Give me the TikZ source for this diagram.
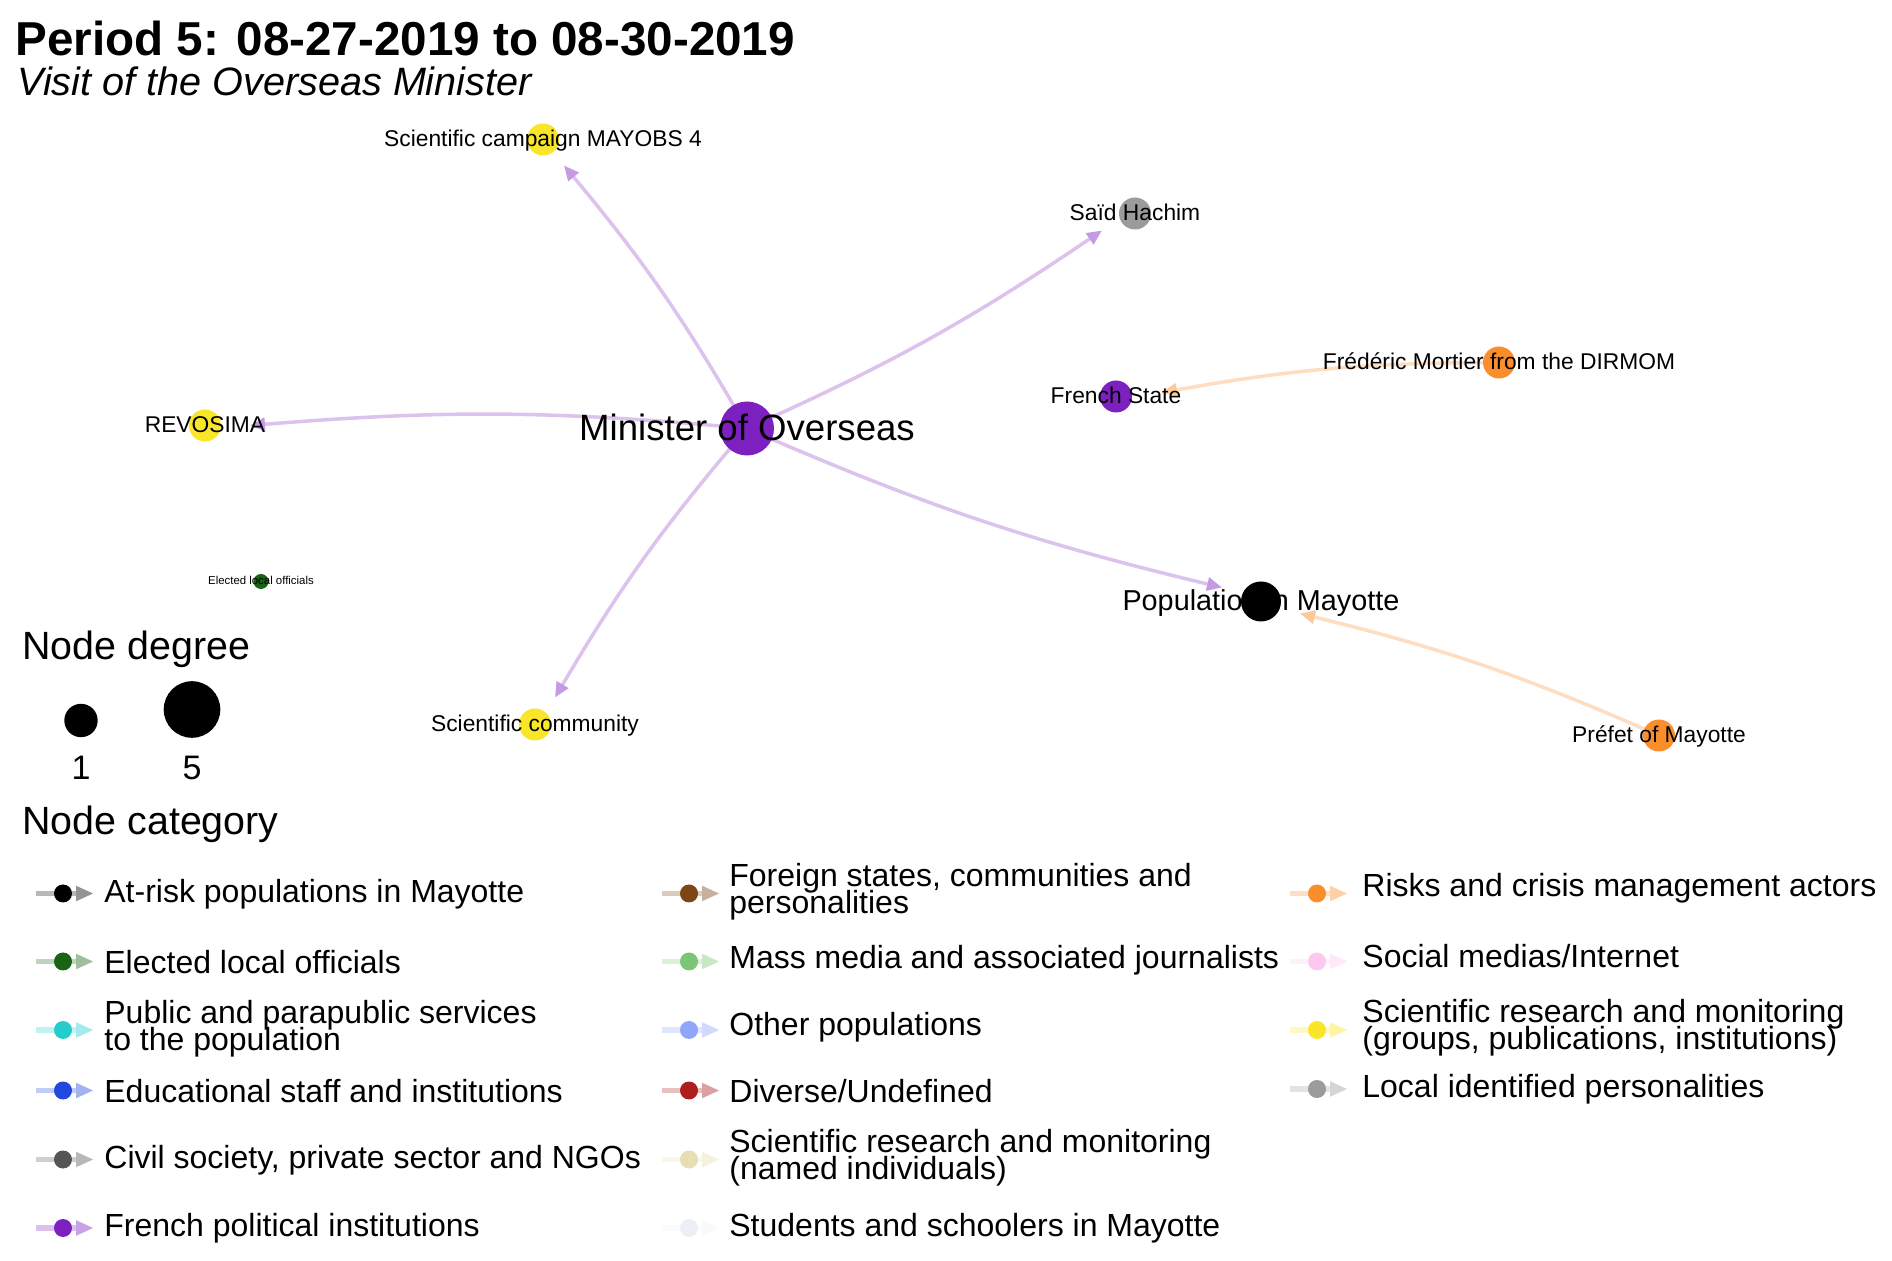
\documentclass[tikz,border=0pt]{standalone}
\usepackage{fontspec}
\setmainfont{Liberation Sans}
\usetikzlibrary{arrows.meta,backgrounds}
\definecolor{cpurple}{RGB}{124,33,192}
\definecolor{cyellow}{RGB}{250,230,40}
\definecolor{cgray}{RGB}{155,155,155}
\definecolor{corange}{RGB}{250,142,44}
\definecolor{cgreen}{RGB}{24,100,18}
\definecolor{cturq}{RGB}{35,205,205}
\definecolor{cblue}{RGB}{35,72,222}
\definecolor{cdgray}{RGB}{85,85,85}
\definecolor{cbrown}{RGB}{125,70,20}
\definecolor{clgreen}{RGB}{125,197,118}
\definecolor{clblue}{RGB}{143,166,250}
\definecolor{cred}{RGB}{175,30,30}
\definecolor{cbeige}{RGB}{232,222,180}
\definecolor{cstud}{RGB}{236,240,244}
\definecolor{cpink}{RGB}{252,200,240}
\colorlet{lineP}{cpurple!27!white}
\colorlet{tipP}{cpurple!45!white}
\colorlet{lineO}{corange!30!white}
\colorlet{tipO}{corange!48!white}
\newcommand{\lkey}[3]{%
  \draw[line width=2.65pt, #3!28!white] ({#1-27},#2) -- ({#1+14},#2);
  \fill[#3!42!white] ({#1+13},{#2-7.8}) -- ({#1+30},#2) -- ({#1+13},{#2+7.8}) -- cycle;
  \fill[#3] (#1,#2) circle[radius=4.5pt];}
\newcommand{\tightlines}{\lineskiplimit=-50pt\relax\lineskip=0pt\relax}
\tikzset{
  vert/.style={circle, inner sep=0pt, fill=#1, minimum size=16pt},
  nlab/.style={anchor=base, inner sep=0pt, font=\fontsize{11.4}{13}\selectfont},
  edgeP/.style={line width=1.75pt, draw=lineP, -{Triangle[length=7.5pt,width=6.5pt,color=tipP]}},
  edgeO/.style={line width=1.75pt, draw=lineO, -{Triangle[length=7.5pt,width=6.5pt,color=tipO]}},
  ltext/.style={anchor=west, inner sep=0pt, font=\fontsize{16}{19}\selectfont},
  ltext2/.style={anchor=west, inner sep=0pt, align=left, font=\fontsize{16}{13.4}\selectfont\tightlines},
  ltitle/.style={anchor=base west, inner sep=0pt, font=\fontsize{19.7}{23}\selectfont},
}
\begin{document}
\begin{tikzpicture}[x=0.5pt,y=-0.5pt]
\useasboundingbox (0,-2.5) rectangle (1892,1258.5);
% title
\node[anchor=base west, inner sep=0pt, font=\bfseries\fontsize{23.8}{28}\selectfont] (title) at (15,53) {Period 5: 08-27-2019 to 08-30-2019};
\node[anchor=base west, inner sep=0pt, font=\itshape\fontsize{19.8}{24}\selectfont] (subtitle) at (17,93) {Visit of the Overseas Minister};
% nodes
\node[vert=cpurple, minimum size=27pt] (min) at (747,426) {};
\node[vert=cyellow] (camp) at (543,137) {};
\node[vert=cgray] (said) at (1135,211) {};
\node[vert=corange] (fred) at (1499,360) {};
\node[vert=cpurple] (fstate) at (1116,394) {};
\node[vert=cyellow] (revo) at (205,423) {};
\node[vert=cgreen, minimum size=7.5pt] (elect) at (261,579) {};
\node[vert=black, minimum size=20pt] (pop) at (1261,599) {};
\node[vert=cyellow] (scom) at (535,722) {};
\node[vert=corange] (pref) at (1659,733) {};
% arrow tip points
\coordinate (t-camp) at (564,163);
\coordinate (t-said) at (1102,228);
\coordinate (t-revo) at (250,423);
\coordinate (t-pop) at (1222,585);
\coordinate (t-scom) at (555,695);
\coordinate (t-fstate) at (1162,390);
\coordinate (t-pop2) at (1300,611);
\begin{pgfonlayer}{background}
\fill[white] (0,-2.5) rectangle (1892,1258.5);
\draw[edgeP] (min.center) to[bend right=5] (t-camp);
\draw[edgeP] (min.center) to[bend right=5] (t-said);
\draw[edgeP] (min.center) to[bend right=5] (t-revo);
\draw[edgeP] (min.center) to[bend right=5] (t-pop);
\draw[edgeP] (min.center) to[bend right=5] (t-scom);
\draw[edgeO] (fred.center) to[bend right=5] (t-fstate);
\draw[edgeO] (pref.center) to[bend right=5] (t-pop2);
\end{pgfonlayer}
% labels
\node[nlab] (l-camp) at (543,144.5) {Scientific campaign MAYOBS 4};
\node[nlab] (l-said) at (1135,218.5) {Saïd Hachim};
\node[nlab] (l-fred) at (1499,367.5) {Frédéric Mortier from the DIRMOM};
\node[nlab] (l-fstate) at (1116,401.5) {French State};
\node[nlab] (l-revo) at (205,430.5) {REVOSIMA};
\node[nlab, font=\fontsize{5.7}{7}\selectfont] (l-elect) at (261,582.5) {Elected local officials};
\node[nlab, font=\fontsize{14.4}{17}\selectfont] (l-pop) at (1261,608.5) {Population in Mayotte};
\node[nlab, font=\fontsize{18.3}{22}\selectfont] (l-min) at (747,438) {Minister of Overseas};
\node[nlab] (l-scom) at (535,729.5) {Scientific community};
\node[nlab] (l-pref) at (1659,740.5) {Préfet of Mayotte};
% degree legend
\node[ltitle] (degtitle) at (22,657) {Node degree};
\node[vert=black, minimum size=16.7pt] (deg1) at (81,718) {};
\node[vert=black, minimum size=28.3pt] (deg5) at (192,707) {};
\node[anchor=base, inner sep=0pt, font=\fontsize{17}{20}\selectfont] (deg1lab) at (81,777) {1};
\node[anchor=base, inner sep=0pt, font=\fontsize{17}{20}\selectfont] (deg5lab) at (192,777) {5};
% category legend
\node[ltitle] (cattitle) at (22,832) {Node category};
% column 1
\lkey{63}{891}{black}
\node[ltext] (k11) at (104,891.5) {At-risk populations in Mayotte};
\lkey{63}{959}{cgreen}
\node[ltext] (k12) at (104,959.5) {Elected local officials};
\lkey{63}{1027.5}{cturq}
\node[ltext2] (k13) at (104,1026) {Public and parapublic services\\to the population};
\lkey{63}{1088}{cblue}
\node[ltext] (k14) at (104,1088.5) {Educational staff and institutions};
\lkey{63}{1157}{cdgray}
\node[ltext] (k15) at (104,1157.5) {Civil society, private sector and NGOs};
\lkey{63}{1225.5}{cpurple}
\node[ltext] (k16) at (104,1226) {French political institutions};
% column 2
\lkey{689}{891}{cbrown}
\node[ltext2] (k21) at (729,889.5) {Foreign states, communities and\\personalities};
\lkey{689}{959}{clgreen}
\node[ltext] (k22) at (729,957.5) {Mass media and associated journalists};
\lkey{689}{1027.5}{clblue}
\node[ltext] (k23) at (729,1025) {Other populations};
\lkey{689}{1088}{cred}
\node[ltext] (k24) at (729,1088.5) {Diverse/Undefined};
\lkey{689}{1157}{cbeige}
\node[ltext2] (k25) at (729,1155.5) {Scientific research and monitoring\\(named individuals)};
\lkey{689}{1225.5}{cstud}
\node[ltext] (k26) at (729,1226) {Students and schoolers in Mayotte};
% column 3
\lkey{1317}{891}{corange}
\node[ltext] (k31) at (1362,885.5) {Risks and crisis management actors};
\lkey{1317}{959}{cpink}
\node[ltext] (k32) at (1362,953.5) {Social medias/Internet};
\lkey{1317}{1027.5}{cyellow}
\node[ltext2] (k33) at (1362,1025) {Scientific research and monitoring\\(groups, publications, institutions)};
\lkey{1317}{1086.5}{cgray}
\node[ltext] (k34) at (1362,1087) {Local identified personalities};
\end{tikzpicture}
\end{document}
